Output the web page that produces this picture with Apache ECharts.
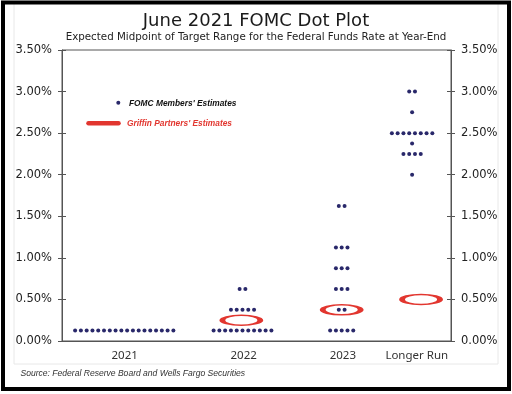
<!DOCTYPE html>
<html>
<head>
<meta charset="utf-8">
<script src="https://cdn.jsdelivr.net/npm/echarts@6/dist/echarts.min.js"></script>
<style>html,body{margin:0;padding:0;background:#fff;}#c{width:512px;height:394px;}</style>
</head>
<body>
<div id="c"></div>
<script>
// ---- data ----
const categories = ['2021', '2022', '2023', 'Longer Run'];
const rates2021 = [0.125];
const counts2021 = [18];
const rates2022 = [0.125, 0.375, 0.625];
const counts2022 = [11, 5, 2];
const rates2023 = [0.125, 0.375, 0.625, 0.875, 1.125, 1.625];
const counts2023 = [5, 2, 3, 3, 3, 2];
const ratesLonger = [2.0, 2.25, 2.375, 2.5, 2.75, 3.0];
const countsLonger = [1, 4, 1, 8, 1, 2];
const griffinCats = ['2022', '2023', 'Longer Run'];
const griffinRates = [0.25, 0.375, 0.5];
const yTickLabels = ['0.00%', '0.50%', '1.00%', '1.50%', '2.00%', '2.50%', '3.00%', '3.50%'];

// ---- layout (x axis runs 0..100 across the plot) ----
const dotPos = [16.0, 46.4, 71.9, 90.0];
const labelPos = [16.1, 46.7, 72.2, 91.2];
const griffinPos = [46.1, 71.9, 92.3];
const dotGap = 5.78;

function expand(ci, rates, counts) {
  const out = [];
  rates.forEach((r, k) => {
    const n = counts[k];
    for (let i = 0; i < n; i++) {
      out.push({ value: [dotPos[ci], r], symbolOffset: [(i - (n - 1) / 2) * dotGap, 0] });
    }
  });
  return out;
}
const dotData = [].concat(
  expand(0, rates2021, counts2021),
  expand(1, rates2022, counts2022),
  expand(2, rates2023, counts2023),
  expand(3, ratesLonger, countsLonger)
);
const griffinData = griffinCats.map((c, i) => [griffinPos[i], griffinRates[i]]);

const DOT = '#29286a';
const RED = '#e2362f';
const AX = '#555';
const ellipse = 'path://M0,5 C0,2.2386 8.506,0 19,0 C29.494,0 38,2.2386 38,5 C38,7.7614 29.494,10 19,10 C8.506,10 0,7.7614 0,5 Z';

const yLabelFmt = v => yTickLabels[Math.round(v / 0.5)];
function yAx(pos, inside, labels) {
  return {
    type: 'value', position: pos, min: 0, max: 3.5, interval: 0.5,
    axisLine: { show: !inside, lineStyle: { color: AX, width: 1 } },
    axisTick: { show: true, inside: inside, length: 4, lineStyle: { color: AX } },
    axisLabel: { show: labels, formatter: yLabelFmt, margin: 10, fontFamily: 'DejaVu Sans', fontSize: 11.5, color: '#222' },
    splitLine: { show: false }
  };
}

const legendFont = 'italic bold 9.5px "Liberation Sans", sans-serif';
const chart = echarts.init(document.getElementById('c'), null, { renderer: 'canvas' });
chart.setOption({
  animation: false,
  backgroundColor: '#fff',
  title: {
    text: 'June 2021 FOMC Dot Plot',
    subtext: 'Expected Midpoint of Target Range for the Federal Funds Rate at Year-End',
    left: 'center', top: 7, itemGap: 2,
    textStyle: { fontFamily: 'DejaVu Sans', fontSize: 18, fontWeight: 'normal', color: '#1a1a1a' },
    subtextStyle: { fontFamily: 'DejaVu Sans', fontSize: 10.3, color: '#222' }
  },
  grid: { left: 62, right: 61, top: 50, bottom: 53, show: true, borderColor: AX, borderWidth: 1 },
  xAxis: {
    type: 'value', min: 0, max: 100,
    axisLine: { show: true, lineStyle: { color: AX } },
    axisTick: { show: false },
    splitLine: { show: false },
    axisLabel: {
      customValues: labelPos,
      formatter: v => categories[labelPos.indexOf(v)] || '',
      margin: 9, fontFamily: 'Noto Sans', fontSize: 11.5, color: '#333'
    }
  },
  yAxis: [yAx('left', false, true), yAx('right', false, true), yAx('left', true, false), yAx('right', true, false)],
  series: [
    {
      name: "FOMC Members' Estimates", type: 'scatter', symbol: 'circle', symbolSize: 4,
      itemStyle: { color: DOT, opacity: 1 }, data: dotData, z: 3
    },
    {
      name: "Griffin Partners' Estimates", type: 'scatter', symbol: ellipse, symbolSize: [38, 10],
      itemStyle: { color: 'rgba(0,0,0,0)', borderColor: RED, borderWidth: 3, opacity: 1 }, data: griffinData, z: 2
    }
  ],
  graphic: [
    { type: 'polyline', silent: true, shape: { points: [[14, 3], [14, 364], [498, 364], [498, 3]] }, style: { stroke: '#e8e8e8', lineWidth: 1, fill: null } },
    { type: 'rect', silent: true, shape: { x: 3, y: 2.5, width: 506, height: 386.5 }, style: { stroke: '#000', lineWidth: 4, fill: null }, z: 10 },
    { type: 'circle', shape: { cx: 118.3, cy: 102.7, r: 2 }, style: { fill: DOT } },
    { type: 'text', x: 129, y: 103, scaleX: 0.88, style: { text: "FOMC Members' Estimates", fill: '#111', font: legendFont, verticalAlign: 'middle' } },
    { type: 'line', shape: { x1: 88.5, y1: 123.3, x2: 118.5, y2: 123.3 }, style: { stroke: RED, lineWidth: 4.5, lineCap: 'round' } },
    { type: 'text', x: 127, y: 123.5, scaleX: 0.88, style: { text: "Griffin Partners' Estimates", fill: RED, font: legendFont, verticalAlign: 'middle' } },
    { type: 'text', x: 20.5, y: 373.5, scaleX: 0.9, style: { text: 'Source: Federal Reserve Board and Wells Fargo Securities', fill: '#333', font: 'italic 9.5px "Liberation Sans", sans-serif', verticalAlign: 'middle' } }
  ]
});
</script>
</body>
</html>
